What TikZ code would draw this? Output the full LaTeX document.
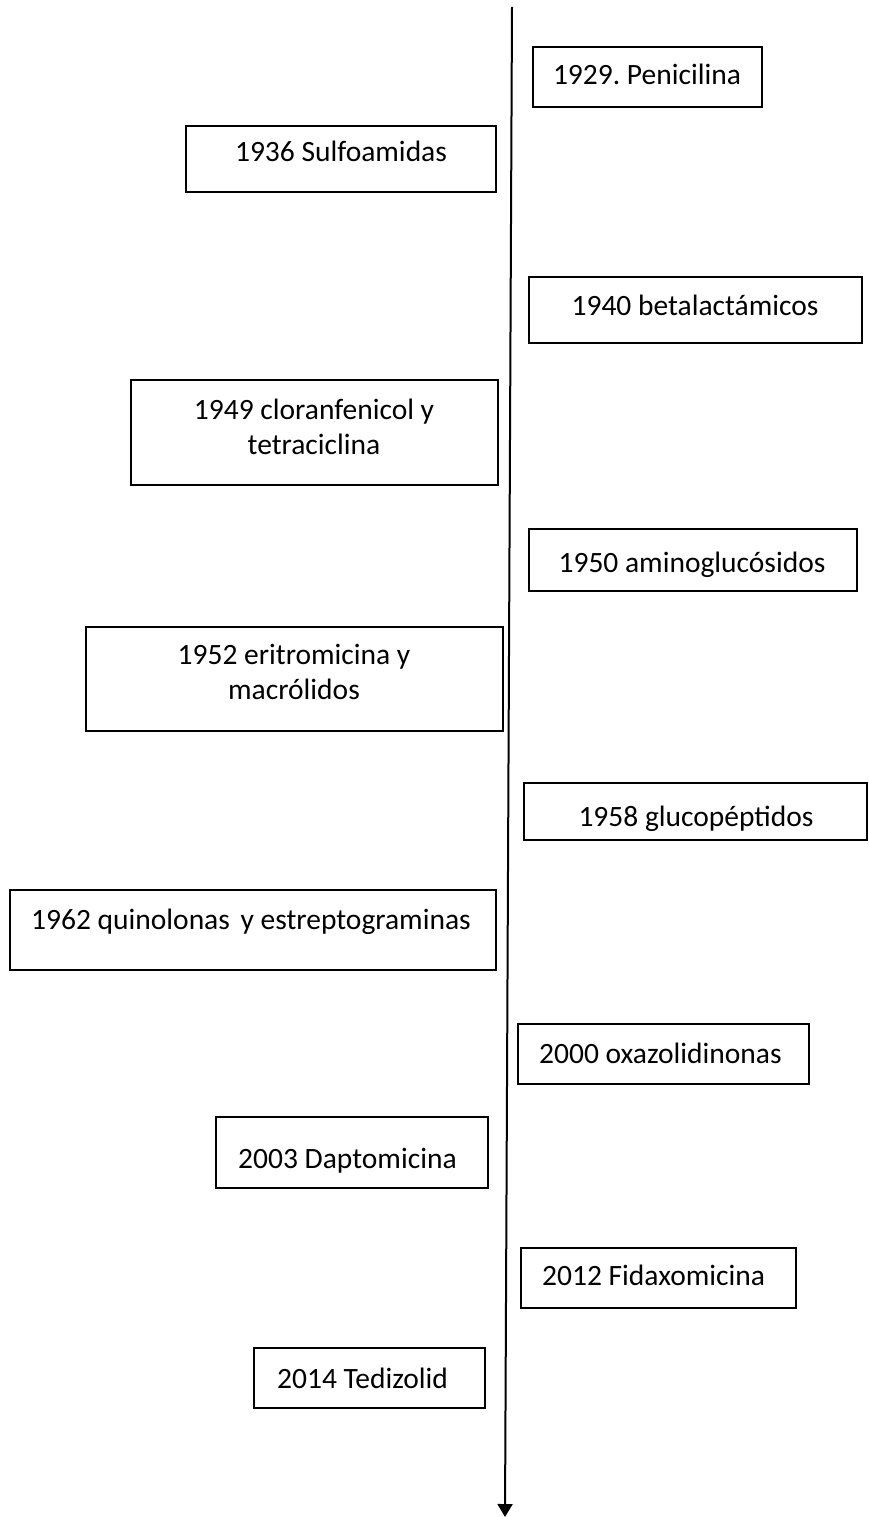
\documentclass[tikz,border=0pt]{standalone}
\usepackage{fontspec}
\setmainfont{Carlito}
\usetikzlibrary{arrows.meta}
\begin{document}
\frenchspacing
\begin{tikzpicture}[x=1pt,y=-1pt,
  box/.style={draw=black,line width=1.8pt,inner sep=0pt},
  lbl/.style={inner sep=0pt,font=\fontsize{29.5}{35}\selectfont},
  axis/.style={line width=2pt,-{Triangle[width=15pt,length=13pt]}}]
\useasboundingbox (0,0) rectangle (868,1517);
\newcommand{\tbox}[5]{%
  \node[box,minimum width=#3-#2,minimum height=#5-#4] (#1) at ({(#2+#3)/2},{(#4+#5)/2}) {};}
% axis
\coordinate (top) at (512,7);
\coordinate (bot) at (505,1517);
\draw[axis] (top) -- (bot);
% boxes
\tbox{b1929}{533}{762}{47}{107}
\tbox{b1936}{186}{496}{126}{192}
\tbox{b1940}{529}{862}{277}{343}
\tbox{b1949}{131}{498}{380}{485}
\tbox{b1950}{529}{857}{529}{591}
\tbox{b1952}{86}{503}{627}{731}
\tbox{b1958}{524}{867}{783}{840}
\tbox{b1962}{10}{496}{890}{970}
\tbox{b2000}{518}{809}{1024}{1084}
\tbox{b2003}{216}{488}{1117}{1188}
\tbox{b2012}{521}{796}{1248}{1308}
\tbox{b2014}{254}{485}{1348}{1408}
% labels
\node[lbl,anchor=base] (t1929) at (647,85) {1929. Penicilina};
\node[lbl,anchor=base] (t1936) at (341,162) {1936 Sulfoamidas};
\node[lbl,anchor=base] (t1940) at (695,315) {1940 betalactámicos};
\node[lbl,anchor=base] (t1949a) at (314,419) {1949 cloranfenicol y};
\node[lbl,anchor=base] (t1949b) at (314,454) {tetraciclina};
\node[lbl,anchor=base] (t1950) at (692,572) {1950 aminoglucósidos};
\node[lbl,anchor=base] (t1952a) at (294,664) {1952 eritromicina y};
\node[lbl,anchor=base] (t1952b) at (294,699) {macrólidos};
\node[lbl,anchor=base] (t1958) at (696,826) {1958 glucopéptidos};
\node[lbl,anchor=base west] (t1962) at (31,929) {1962 quinolonas\hspace{4pt} y estreptograminas};
\node[lbl,anchor=base west] (t2000) at (539,1063) {2000 oxazolidinonas};
\node[lbl,anchor=base west] (t2003) at (238,1168) {2003 Daptomicina};
\node[lbl,anchor=base west] (t2012) at (542,1285) {2012 Fidaxomicina};
\node[lbl,anchor=base west] (t2014) at (277,1388) {2014 Tedizolid};
\end{tikzpicture}
\end{document}
